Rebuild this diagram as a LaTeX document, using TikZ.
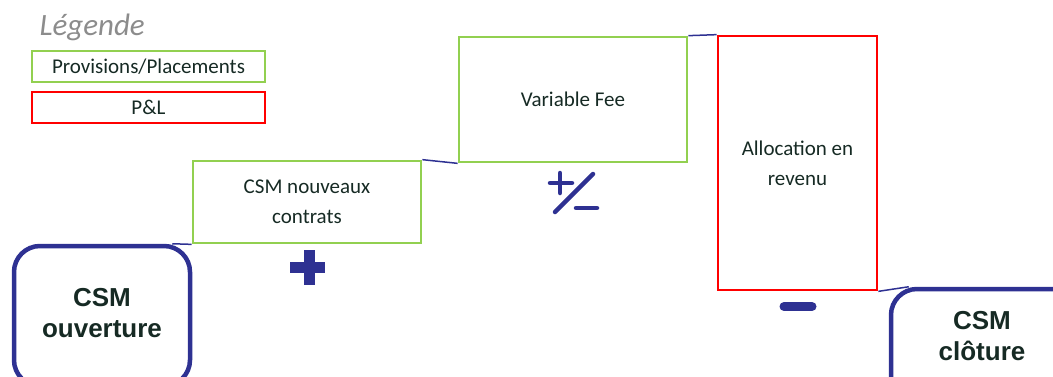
\documentclass[tikz,border=0pt]{standalone}
\usepackage{fontspec}
\setmainfont{Carlito}
\newfontfamily\csmfont{Liberation Sans}
\usetikzlibrary{calc}

\definecolor{csmblue}{RGB}{46,49,146}
\definecolor{provgreen}{RGB}{146,208,80}
\definecolor{plred}{RGB}{255,0,0}
\definecolor{textdark}{RGB}{22,42,36}

\begin{document}
\begin{tikzpicture}[x=1pt,y=-1pt,
	provbox/.style={draw=provgreen,line width=2.7pt,text=textdark,align=center,inner sep=0pt,font=\fontsize{21}{30}\selectfont},
	plbox/.style={provbox,draw=plred},
	csmbox/.style={draw=csmblue,line width=4.5pt,rounded corners=26pt,inner sep=0pt},
	csmtext/.style={text=textdark,align=center,font=\csmfont\bfseries\fontsize{26}{31}\selectfont},
	link/.style={csmblue,line width=1.5pt},
	sign/.style={csmblue,line width=4.5pt,line cap=round}]
			\useasboundingbox (0,0) rectangle (1053,376);
			\clip (0,0) rectangle (1053,376);
			
			% Legend
			\node[anchor=base west,text=gray!90,font=\itshape\fontsize{31}{36}\selectfont] (legtitle) at (36,35) {Légende};
			\node[provbox,minimum width=233pt,minimum height=31pt] (legprov) at (148.5,66.5) {Provisions/Placements};
			\node[plbox,minimum width=233pt,minimum height=31pt] (legpl) at (148.5,107.5) {P\&L};
			
			% CSM boxes
			\node[csmbox,minimum width=176pt,minimum height=140pt] (ouv) at (102,316) {};
			\node[csmtext] (ouvtext) at (102,313) {CSM\\ouverture};
			\node[csmbox,minimum width=188pt,minimum height=120pt] (clo) at (985,349) {};
			\node[csmtext] (clotext) at (982,336) {CSM\\clôture};
			
			% Movements
			\node[provbox,minimum width=228pt,minimum height=82pt] (nouv) at (307,202) {CSM nouveaux\\contrats};
			\node[provbox,minimum width=228pt,minimum height=125pt] (vf) at (573,99.5) {Variable Fee};
			\node[plbox,minimum width=159pt,minimum height=254pt] (alloc) at (797.5,163) {Allocation en\\revenu};
			
			% Links
			\draw[link] ([xshift=-20pt]ouv.north east) -- (nouv.south west);
			\draw[link] (nouv.north east) -- (vf.south west);
			\draw[link] (vf.north east) -- (alloc.north west);
			\draw[link] (alloc.south east) -- ([xshift=20pt]clo.north west);
			
			% Signs
			\draw[sign,line width=11pt,line cap=butt] (290,267.5) -- (325,267.5) (309,250) -- (309,285);
			\draw[sign] (550,183) -- (572,183) (560,173) -- (560,193);
			\draw[sign] (555,212) -- (593,174);
			\draw[sign] (576,208) -- (597,208);
			\draw[sign,line width=9pt] (784,306.5) -- (812,306.5);
		\end{tikzpicture}
\end{document}
